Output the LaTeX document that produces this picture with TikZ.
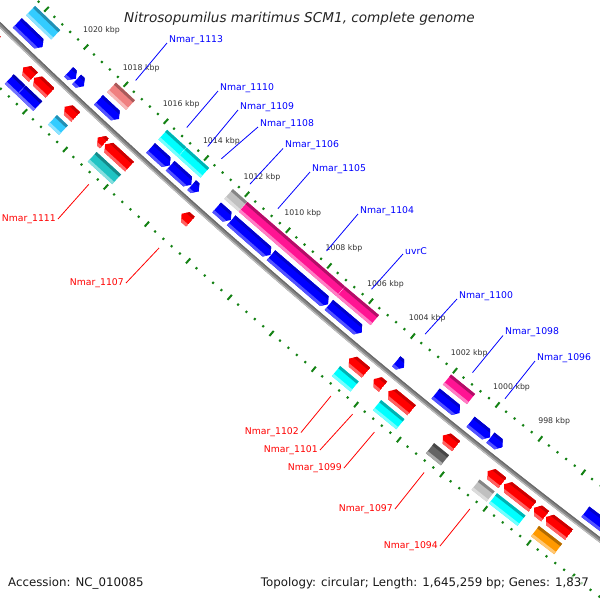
\documentclass[tikz,border=0pt]{standalone}
\usepackage{fontspec}
\setmainfont{DejaVu Sans}
\definecolor{gblue}{RGB}{0,0,255}
\definecolor{gred}{RGB}{255,0,0}
\definecolor{cskyblue}{RGB}{51,204,255}
\definecolor{ccyan}{RGB}{0,255,255}
\definecolor{cteal}{RGB}{32,196,196}
\definecolor{ccoral}{RGB}{240,128,128}
\definecolor{cpink}{RGB}{255,20,147}
\definecolor{clgrey}{RGB}{192,192,192}
\definecolor{cdgrey}{RGB}{100,100,100}
\definecolor{corange}{RGB}{255,153,0}
\definecolor{tickgreen}{RGB}{20,130,20}
\definecolor{bbmain}{RGB}{135,135,135}
\definecolor{bblight}{RGB}{190,190,190}
\definecolor{bbdark}{RGB}{105,105,105}

\newcommand\sdquad[5]{\fill[#5] ({gu(#1,#3)},{gv(#1,#3)}) -- ({gu(#2,#3)},{gv(#2,#3)}) -- ({gu(#2,#4)},{gv(#2,#4)}) -- ({gu(#1,#4)},{gv(#1,#4)}) -- cycle;}
\newcommand\cogbox[4]{\sdquad{#1}{#2}{#3-6.5}{#3+6.5}{#4}\sdquad{#1}{#2}{#3-6.5}{#3-3.6}{#4!70!black}\sdquad{#1}{#2}{#3+3.6}{#3+6.5}{#4!55!white}}
\newcommand\fwdarrow[4]{\begin{scope}\clip ({gu(#1,#3-6.5)},{gv(#1,#3-6.5)}) -- ({gu(#2-5,#3-6.5)},{gv(#2-5,#3-6.5)}) -- ({gu(#2,#3)},{gv(#2,#3)}) -- ({gu(#2-5,#3+6.5)},{gv(#2-5,#3+6.5)}) -- ({gu(#1,#3+6.5)},{gv(#1,#3+6.5)}) -- cycle;
\sdquad{#1}{#2}{#3-7}{#3+7}{#4}\sdquad{#1}{#2}{#3-7}{#3-3.6}{#4!80!black}\sdquad{#1}{#2}{#3+3.6}{#3+7}{#4!68!white}\end{scope}}
\newcommand\revarrow[4]{\begin{scope}\clip ({gu(#1,#3)},{gv(#1,#3)}) -- ({gu(#1+5,#3-6.5)},{gv(#1+5,#3-6.5)}) -- ({gu(#2,#3-6.5)},{gv(#2,#3-6.5)}) -- ({gu(#2,#3+6.5)},{gv(#2,#3+6.5)}) -- ({gu(#1+5,#3+6.5)},{gv(#1+5,#3+6.5)}) -- cycle;
\sdquad{#1}{#2}{#3-7}{#3+7}{#4}\sdquad{#1}{#2}{#3-7}{#3-3.6}{#4!80!black}\sdquad{#1}{#2}{#3+3.6}{#3+7}{#4!62!white}\end{scope}}
\newcommand\leadpt[3]{\coordinate (#1) at ({gu(#2,#3)},{gv(#2,#3)});}

\tikzset{
  ticklab/.style={font=\fontsize{7.8}{9}\selectfont, text=black!80, inner sep=0pt},
  uplab/.style={font=\fontsize{9.3}{11}\selectfont, text=gblue, inner sep=0pt, anchor=west},
  lowlab/.style={font=\fontsize{9.3}{11}\selectfont, text=gred, inner sep=0pt, anchor=east},
  upleader/.style={draw=gblue, line width=0.8pt},
  lowleader/.style={draw=gred, line width=0.8pt},
  majtick/.style={draw=tickgreen, line width=2pt},
  mintick/.style={draw=tickgreen, line width=2pt},
}

\begin{document}
\begin{tikzpicture}[x=1pt,y=-1pt,
  declare function={gu(\x,\y)=\x-\y/6623*(395.35-\x); gv(\x,\y)=\x/13246*(790.7-\x)+\y;}]
\useasboundingbox (0,0) rectangle (600,600);
\fill[white] (0,0) rectangle (600,600);
\begin{scope}
\clip (0,0) rectangle (600,600);
\begin{scope}[shift={(0,25)},rotate=-40.64]
% backbone
\draw[line width=4.6pt, color=bbmain] plot[domain=-60:860,samples=40,smooth] ({gu(\x,0)},{gv(\x,0)});
\draw[line width=1.2pt, color=bblight] plot[domain=-60:860,samples=40,smooth] ({gu(\x,1.7)},{gv(\x,1.7)});
\draw[line width=1.2pt, color=bbdark] plot[domain=-60:860,samples=40,smooth] ({gu(\x,-1.7)},{gv(\x,-1.7)});
% ticks
\foreach \k in {-2,...,14}{
  \pgfmathsetmacro\sk{77.5+54.9*\k}
  \draw[majtick] ({gu(\sk,-46.8)},{gv(\sk,-46.8)}) -- ({gu(\sk,-40.2)},{gv(\sk,-40.2)});
  \draw[majtick] ({gu(\sk,42.1)},{gv(\sk,42.1)}) -- ({gu(\sk,48.7)},{gv(\sk,48.7)});
  \foreach \m in {1,2,3,4}{
    \pgfmathsetmacro\sm{\sk+10.98*\m}
    \draw[mintick] ({gu(\sm,-44.6)},{gv(\sm,-44.6)}) -- ({gu(\sm,-42.4)},{gv(\sm,-42.4)});
    \draw[mintick] ({gu(\sm,44.3)},{gv(\sm,44.3)}) -- ({gu(\sm,46.5)},{gv(\sm,46.5)});
  }
}
\foreach \k in {0,...,11}{
  \pgfmathsetmacro\sk{77.5+54.9*\k}
  \pgfmathtruncatemacro\kb{1020-2*\k}
  \node[ticklab] (t\kb) at ({gu(\sk,-66)},{gv(\sk,-66)}) {\kb\ kbp};
}
% forward genes (lane +1)
\fwdarrow{11}{46}{-13.5}{gblue}
\fwdarrow{82}{92}{-13.5}{gblue}
\fwdarrow{93}{103}{-13.5}{gblue}
\fwdarrow{123}{151}{-13.5}{gblue}
\fwdarrow{194}{220}{-13.5}{gblue}
\fwdarrow{220.5}{249}{-13.5}{gblue}
\fwdarrow{249.5}{259}{-13.5}{gblue}
\fwdarrow{283}{302}{-13.5}{gblue}
\fwdarrow{302.5}{355}{-13.5}{gblue}
\fwdarrow{355.5}{431}{-13.5}{gblue}
\fwdarrow{432}{475}{-13.5}{gblue}
\fwdarrow{520}{530}{-13.5}{gblue}
\fwdarrow{571}{602}{-13.5}{gblue}
\fwdarrow{616}{641}{-13.5}{gblue}
\fwdarrow{641.5}{657}{-13.5}{gblue}
\fwdarrow{762}{850}{-13.5}{gblue}
% COG boxes (lane +2)
\cogbox{12}{47}{-31.5}{cskyblue}
\cogbox{124}{150}{-31.5}{ccoral}
\cogbox{194}{220}{-31.5}{ccyan}
\cogbox{220.5}{251}{-31.5}{ccyan}
\cogbox{283}{302}{-31.5}{clgrey}
\cogbox{302.5}{432}{-31.5}{cpink}
\cogbox{432.5}{477}{-31.5}{cpink}
\cogbox{571}{602}{-31.5}{cpink}
% reverse genes (lane -1)
\revarrow{-40}{9}{14.5}{gred}
\revarrow{46}{60}{14.5}{gred}
\revarrow{61}{83}{14.5}{gred}
\revarrow{103}{118}{14.5}{gred}
\revarrow{148}{157}{14.5}{gred}
\revarrow{158}{191}{14.5}{gred}
\revarrow{261}{273}{14.5}{gred}
\revarrow{482}{504}{14.5}{gred}
\revarrow{514}{526}{14.5}{gred}
\revarrow{533}{563}{14.5}{gred}
\revarrow{603}{620}{14.5}{gred}
\revarrow{660}{679}{14.5}{gred}
\revarrow{681}{717}{14.5}{gred}
\revarrow{719}{733}{14.5}{gred}
\revarrow{734}{763}{14.5}{gred}
% COG boxes (lane -2)
\cogbox{44}{60}{32.5}{gblue}
\cogbox{60.5}{83}{32.5}{gblue}
\cogbox{103}{118}{32.5}{cskyblue}
\cogbox{157}{190}{32.5}{cteal}
\cogbox{480}{504}{32.5}{ccyan}
\cogbox{533}{563}{32.5}{ccyan}
\cogbox{601}{620}{32.5}{cdgrey}
\cogbox{659}{678}{32.5}{clgrey}
\cogbox{681}{717}{32.5}{ccyan}
\cogbox{734}{763}{32.5}{corange}
% leader end points
\leadpt{e1113}{137}{-53}
\leadpt{e1110}{207}{-53}
\leadpt{e1109}{235.5}{-53}
\leadpt{e1108}{254}{-53}
\leadpt{e1106}{292.5}{-53}
\leadpt{e1105}{330}{-53}
\leadpt{e1104}{395}{-53}
\leadpt{euvrC}{454.5}{-53}
\leadpt{e1100}{525}{-53}
\leadpt{e1098}{586.5}{-53}
\leadpt{e1096}{628.5}{-53}
\leadpt{e1111}{173}{55}
\leadpt{e1107}{267}{55}
\leadpt{e1102}{492}{55}
\leadpt{e1101}{520}{55}
\leadpt{e1099}{548}{55}
\leadpt{e1097}{611.5}{55}
\leadpt{e1094}{669.5}{55}
\end{scope}
% labels
\node[uplab] (n1113) at (169,40) {Nmar\_1113};
\node[uplab] (n1110) at (220,88) {Nmar\_1110};
\node[uplab] (n1109) at (240,107) {Nmar\_1109};
\node[uplab] (n1108) at (260,124) {Nmar\_1108};
\node[uplab] (n1106) at (285,145.5) {Nmar\_1106};
\node[uplab] (n1105) at (312,169) {Nmar\_1105};
\node[uplab] (n1104) at (360,211) {Nmar\_1104};
\node[uplab] (nuvrC) at (405,251) {uvrC};
\node[uplab] (n1100) at (459,296) {Nmar\_1100};
\node[uplab] (n1098) at (505,332.5) {Nmar\_1098};
\node[uplab] (n1096) at (537,358) {Nmar\_1096};
\node[lowlab] (n1111) at (56,219) {Nmar\_1111};
\node[lowlab] (n1107) at (124,283) {Nmar\_1107};
\node[lowlab] (n1102) at (299,432.5) {Nmar\_1102};
\node[lowlab] (n1101) at (318,450) {Nmar\_1101};
\node[lowlab] (n1099) at (342,468) {Nmar\_1099};
\node[lowlab] (n1097) at (393,509) {Nmar\_1097};
\node[lowlab] (n1094) at (438,546) {Nmar\_1094};
\foreach \n in {1113,1110,1109,1108,1106,1105,1104,uvrC,1100,1098,1096}{
  \draw[upleader] ([shift={(-2,3)}]n\n.west) -- (e\n);
}
\foreach \n in {1111,1107,1102,1101,1099,1097,1094}{
  \draw[lowleader] ([shift={(2,0)}]n\n.east) -- (e\n);
}
\node[font=\fontsize{13.6}{16}\selectfont\itshape, text=black!85, anchor=base, inner sep=0pt] (title) at (299.5,22.5) {Nitrosopumilus maritimus SCM1, complete genome};
\node[font=\fontsize{11.8}{14}\selectfont, text=black!90, anchor=base west, inner sep=0pt] (acc) at (8,586) {Accession: NC\_010085};
\node[font=\fontsize{11.8}{14}\selectfont, text=black!90, anchor=base east, inner sep=1pt, fill=white, fill opacity=0.6, text opacity=1] (topo) at (590,586) {Topology: circular; Length: 1,645,259 bp; Genes: 1,837};
\end{scope}
\end{tikzpicture}
\end{document}
